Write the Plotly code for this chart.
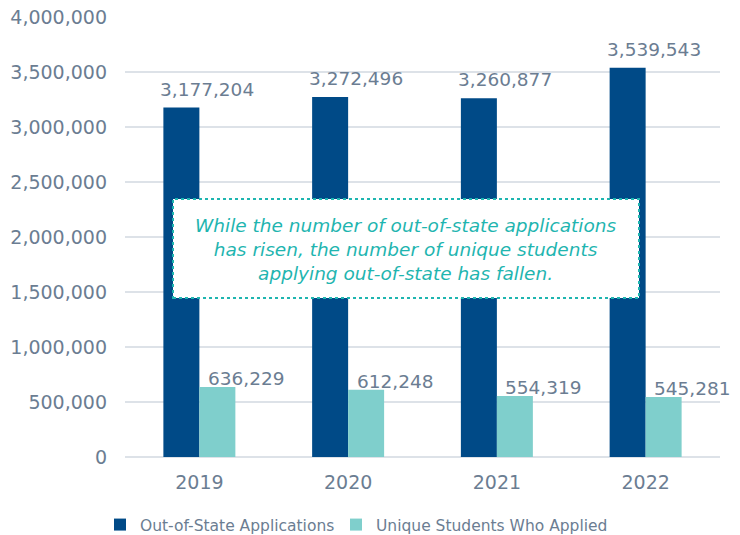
import plotly.graph_objects as go

years = ["2019", "2020", "2021", "2022"]
applications = [3177204, 3272496, 3260877, 3539543]
unique_students = [636229, 612248, 554319, 545281]
y_ticks = [0, 500000, 1000000, 1500000, 2000000, 2500000, 3000000, 3500000, 4000000]
note_lines = [
    "While the number of out-of-state applications",
    "has risen, the number of unique students",
    "applying out-of-state has fallen.",
]

DARK = "#004a87"
LIGHT = "#7fcfcc"
TEXT = "#6b7d92"
TEAL = "#1fb5b0"
FONT = "DejaVu Sans, Verdana, sans-serif"

fig = go.Figure()
fig.add_trace(go.Bar(x=years, y=applications, name="Out-of-State Applications",
                     marker=dict(color=DARK, line=dict(width=0)), legend="legend"))
fig.add_trace(go.Bar(x=years, y=unique_students, name="Unique Students Who Applied",
                     marker=dict(color=LIGHT, line=dict(width=0)), legend="legend2"))

# value labels above each bar (category index keeps numeric-looking names unambiguous)
for i, v in enumerate(applications):
    fig.add_annotation(x=i, y=v, text=f"{v:,}", showarrow=False, yanchor="bottom",
                       xshift=8, yshift=6, font=dict(size=18.5, color=TEXT, family=FONT))
for i, v in enumerate(unique_students):
    fig.add_annotation(x=i, y=v, text=f"{v:,}", showarrow=False, yanchor="bottom",
                       xshift=47, yshift=-4, font=dict(size=18.5, color=TEXT, family=FONT))

# callout box
fig.add_shape(type="rect", xref="paper", yref="paper",
              x0=(173 - 125) / 595, x1=(639 - 125) / 595,
              y0=(457 - 298) / 440, y1=(457 - 199) / 440,
              fillcolor="white", line=dict(color=TEAL, width=2, dash="dot"), layer="above")
fig.add_annotation(xref="paper", yref="paper", x=(406 - 125) / 595, y=(457 - 249) / 440,
                   text="<br>".join(f"<i>{t}</i>" for t in note_lines), showarrow=False,
                   align="center", font=dict(size=18.5, color=TEAL, family=FONT))

legend_style = dict(orientation="h", yanchor="middle", y=-(525 - 457) / 440,
                    font=dict(size=15.5, color=TEXT), itemwidth=30, bgcolor="rgba(0,0,0,0)")

fig.update_layout(
    width=740, height=535,
    margin=dict(l=125, r=20, t=17, b=78, autoexpand=False),
    paper_bgcolor="white", plot_bgcolor="white",
    barmode="group", bargap=0.516, bargroupgap=0,
    font=dict(family=FONT, color=TEXT, size=18),
    showlegend=True,
    legend=dict(x=(100 - 125) / 595, xanchor="left", **legend_style),
    legend2=dict(x=(336 - 125) / 595, xanchor="left", **legend_style),
    xaxis=dict(type="category", range=[-0.5, 3.5], showgrid=False, showline=False, ticks="",
               ticklabelstandoff=12, tickfont=dict(size=19, color=TEXT)),
    yaxis=dict(range=[0, 4000000], tickvals=y_ticks, tickformat=",d",
               gridcolor="#dde2e8", gridwidth=2, zeroline=True, zerolinecolor="#dde2e8",
               zerolinewidth=2, showline=False, ticks="", ticklabelstandoff=17,
               tickfont=dict(size=19, color=TEXT)),
)

fig.write_html("out.html")
